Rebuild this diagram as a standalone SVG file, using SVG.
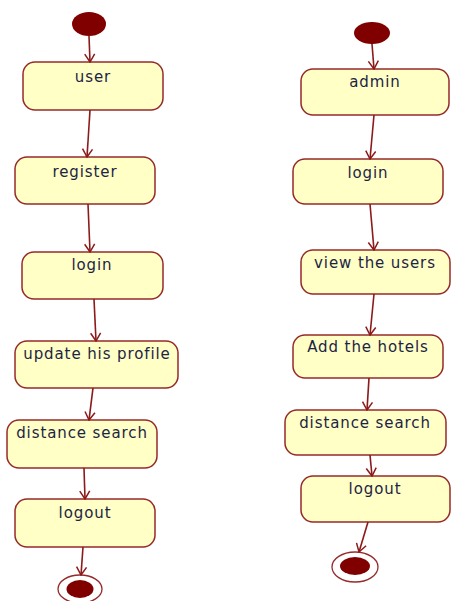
<svg xmlns="http://www.w3.org/2000/svg" width="451" height="601" viewBox="0 0 451 601">
  <style>
    .state rect { fill: #ffffc6; stroke: #962a2a; stroke-width: 1.5; }
    .state text { font-family: "DejaVu Sans", "Liberation Sans", sans-serif; font-size: 15px; letter-spacing: 0.9px; fill: #1c2444; text-anchor: middle; }
    .start { fill: #800000; }
    .end-ring { fill: #ffffff; stroke: #962a2a; stroke-width: 1.3; }
    .end-dot { fill: #800000; }
    #connectors line { stroke: #8b1a1a; stroke-width: 1.6; marker-end: url(#open); }
  </style>
  <defs>
    <marker id="open" viewBox="0 0 10 12" refX="9" refY="6" markerWidth="10" markerHeight="12" markerUnits="userSpaceOnUse" orient="auto">
      <path d="M1,1 L9,6 L1,11" fill="none" stroke="#8b1a1a" stroke-width="1.5"/>
    </marker>
  </defs>
  <rect width="451" height="601" fill="#ffffff"/>

  <!-- user flow -->
  <g id="u-start"><ellipse class="start" cx="89" cy="24" rx="17" ry="12"/></g>
  <g id="u-user" class="state"><rect x="23" y="62" width="140" height="48" rx="12"/><text x="93" y="82">user</text></g>
  <g id="u-register" class="state"><rect x="15" y="157" width="140" height="47" rx="12"/><text x="85" y="177">register</text></g>
  <g id="u-login" class="state"><rect x="22" y="252" width="141" height="47" rx="12"/><text x="92" y="270">login</text></g>
  <g id="u-profile" class="state"><rect x="15" y="341" width="163" height="47" rx="12"/><text x="97" y="359">update his profile</text></g>
  <g id="u-search" class="state"><rect x="7" y="420" width="150" height="48" rx="12"/><text x="82" y="438">distance search</text></g>
  <g id="u-logout" class="state"><rect x="15" y="499" width="140" height="48" rx="12"/><text x="85" y="518">logout</text></g>
  <g id="u-end"><ellipse class="end-ring" cx="80" cy="589" rx="22" ry="14"/><ellipse class="end-dot" cx="80" cy="589" rx="13.5" ry="9"/></g>

  <!-- admin flow -->
  <g id="a-start"><ellipse class="start" cx="372" cy="33" rx="18" ry="11"/></g>
  <g id="a-admin" class="state"><rect x="301" y="69" width="148" height="46" rx="12"/><text x="375" y="87">admin</text></g>
  <g id="a-login" class="state"><rect x="293" y="159" width="150" height="45" rx="12"/><text x="368" y="178">login</text></g>
  <g id="a-users" class="state"><rect x="301" y="250" width="149" height="44" rx="12"/><text x="375" y="268">view the users</text></g>
  <g id="a-hotels" class="state"><rect x="293" y="335" width="150" height="43" rx="12"/><text x="368" y="352">Add the hotels</text></g>
  <g id="a-search" class="state"><rect x="285" y="410" width="161" height="45" rx="12"/><text x="365" y="428">distance search</text></g>
  <g id="a-logout" class="state"><rect x="301" y="476" width="149" height="46" rx="12"/><text x="375" y="494">logout</text></g>
  <g id="a-end"><ellipse class="end-ring" cx="355" cy="567" rx="23" ry="15"/><ellipse class="end-dot" cx="355" cy="566" rx="15" ry="9"/></g>

  <g id="connectors">
    <line x1="89" y1="36" x2="90" y2="62"/>
    <line x1="90" y1="110" x2="87" y2="157"/>
    <line x1="88" y1="204" x2="90" y2="252"/>
    <line x1="94" y1="299" x2="96" y2="341"/>
    <line x1="93" y1="388" x2="89" y2="420"/>
    <line x1="84" y1="468" x2="85" y2="499"/>
    <line x1="83" y1="547" x2="81" y2="575"/>

    <line x1="372" y1="44" x2="374" y2="69"/>
    <line x1="374" y1="115" x2="370" y2="159"/>
    <line x1="370" y1="204" x2="374" y2="250"/>
    <line x1="374" y1="294" x2="370" y2="335"/>
    <line x1="369" y1="378" x2="367" y2="410"/>
    <line x1="370" y1="455" x2="372" y2="476"/>
    <line x1="368" y1="522" x2="359" y2="552"/>
  </g>
</svg>
